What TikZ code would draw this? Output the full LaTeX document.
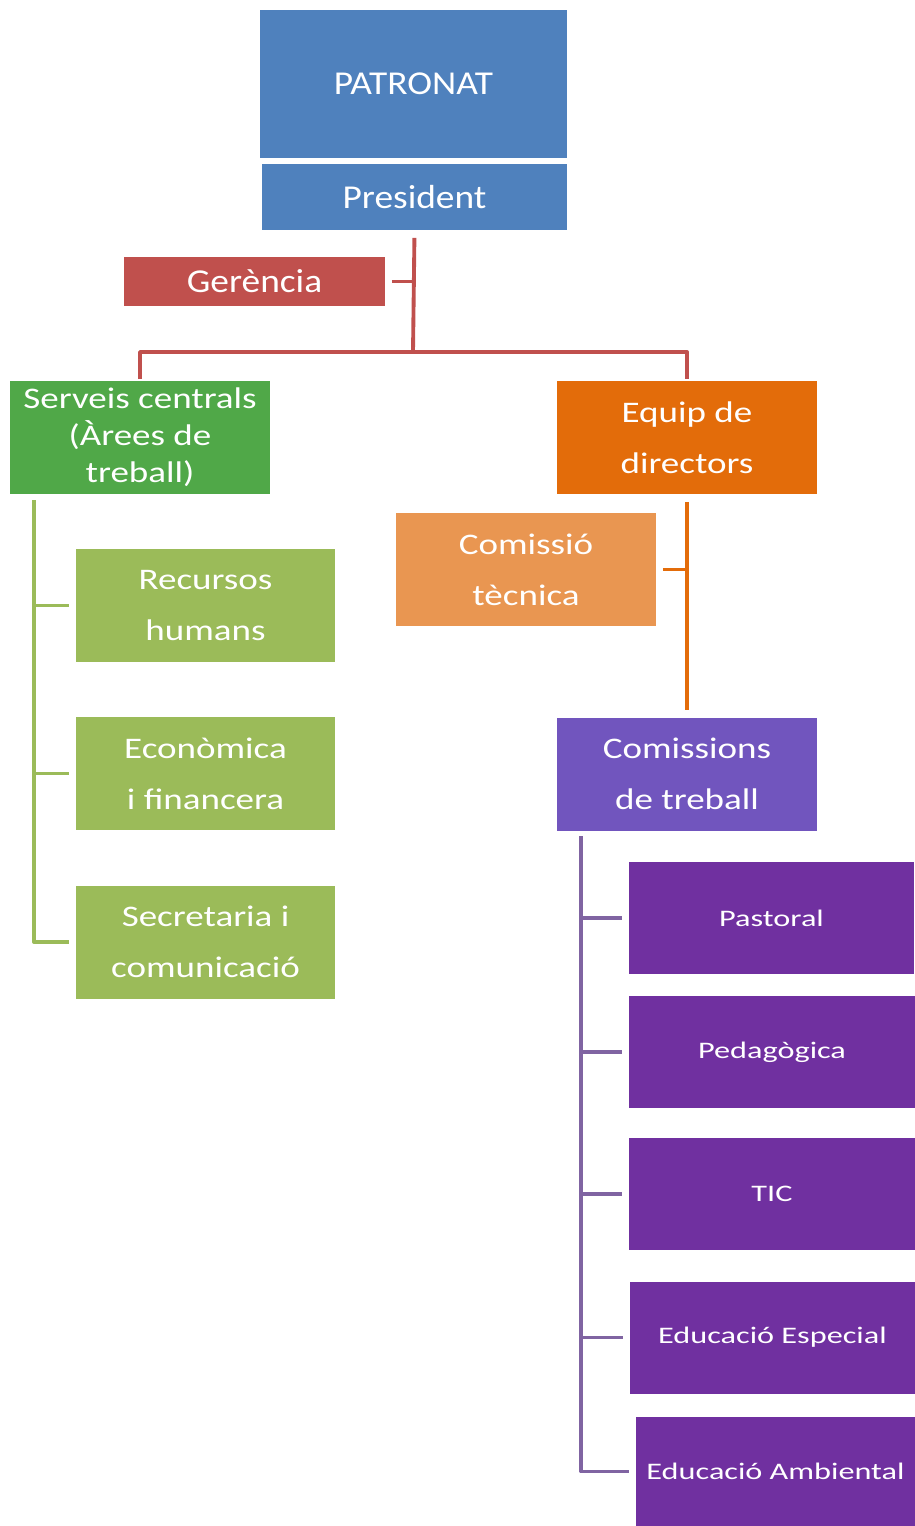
\documentclass[tikz,border=0pt]{standalone}
\usepackage{fontspec}
\setmainfont{Carlito}
\newfontfamily\spreadtop{Carlito}[FakeStretch=1.12]
\newfontfamily\spreadmid{Carlito}[FakeStretch=1.24]
\newfontfamily\spreadcom{Carlito}[FakeStretch=1.36]
\usetikzlibrary{calc}

\definecolor{patblue}{HTML}{4F81BD}
\definecolor{gerred}{HTML}{C0504D}
\definecolor{servgreen}{HTML}{50A848}
\definecolor{areagreen}{HTML}{9BBB59}
\definecolor{dirorange}{HTML}{E36C0A}
\definecolor{tecorange}{HTML}{E99651}
\definecolor{comviolet}{HTML}{7155BE}
\definecolor{compurple}{HTML}{7030A0}
\definecolor{linepurple}{HTML}{8064A2}

\begin{document}
\begin{tikzpicture}[x=0.02cm,y=-0.02cm,line width=2.2pt,
  org node/.style={rectangle,inner sep=0pt,text=white,align=center,
    minimum width=5.2cm,minimum height=2.26cm,font=\spreadmid\fontsize{17}{29}\selectfont},
  head node/.style={org node,fill=patblue,font=\spreadtop\fontsize{19}{23}\selectfont},
  comm node/.style={org node,fill=compurple,minimum width=5.72cm,minimum height=2.24cm,
    font=\spreadcom\fontsize{13.5}{16}\selectfont},
  link/.style={shorten <=0.1cm}]

\useasboundingbox (0,0) rectangle (915,1526);

\node[head node,minimum width=6.14cm,minimum height=2.96cm](Pat) at (413.5,84) {PATRONAT};
\node[head node,minimum width=6.1cm,minimum height=1.32cm](Pres) at (414.5,197) {President};
\node[head node,fill=gerred,minimum width=5.22cm,minimum height=0.98cm](Ger) at (254.5,281.5) {Gerència};

\node[org node,fill=servgreen,font=\spreadmid\fontsize{17}{21}\selectfont](Serv) at (140,437.5) {Serveis centrals\\(Àrees de\\treball)};
\node[org node,fill=dirorange](Equip) at (687,437.5) {Equip de\\directors};
\node[org node,fill=tecorange](Tec) at (526,569.5) {Comissió\\tècnica};
\node[org node,fill=comviolet](Com) at (687,774) {Comissions\\de treball};

\node[org node,fill=areagreen](Rec) at (205.5,605.5) {Recursos\\humans};
\node[org node,fill=areagreen](Eco) at (205.5,773.5) {Econòmica\\i financera};
\node[org node,fill=areagreen](Sec) at (205.5,942) {Secretaria i\\comunicació};

\node[comm node](Past) at (771.5,918) {Pastoral};
\node[comm node](Ped) at (772,1052) {Pedagògica};
\node[comm node](TIC) at (772,1194) {TIC};
\node[comm node](Esp) at (772.5,1337.5) {Educació Especial};
\node[comm node,minimum width=5.58cm,minimum height=2.18cm](Amb) at (775.5,1471.5) {Educació Ambiental};

\coordinate (J1) at (413,352);
\coordinate (G0) at (34,500);
\coordinate (P0) at (581,836);

% red trunk
\draw[gerred,shorten <=0.12cm] (Pres.south) -- (J1);
\draw[gerred,link] (Ger.east) -- (Ger.east -| J1);
\draw[gerred,line join=round] (Serv.north) |- (J1) -| (Equip.north);

% green branch
\draw[areagreen,line join=round] (G0) |- ($(Sec.west)+(-5,0)$);
\draw[areagreen] (G0 |- Rec.west) -- ($(Rec.west)+(-5,0)$);
\draw[areagreen] (G0 |- Eco.west) -- ($(Eco.west)+(-5,0)$);

% orange branch
\draw[dirorange,shorten <=0.12cm,shorten >=0.12cm] (Equip.south) -- (Com.north);
\draw[dirorange,link] (Tec.east) -- (Tec.east -| Equip.south);

% purple branch
\draw[linepurple,line join=round] (P0) |- ($(Amb.west)+(-5,0)$);
\draw[linepurple] (P0 |- Past.west) -- ($(Past.west)+(-5,0)$);
\draw[linepurple] (P0 |- Ped.west) -- ($(Ped.west)+(-5,0)$);
\draw[linepurple] (P0 |- TIC.west) -- ($(TIC.west)+(-5,0)$);
\draw[linepurple] (P0 |- Esp.west) -- ($(Esp.west)+(-5,0)$);
\end{tikzpicture}
\end{document}
